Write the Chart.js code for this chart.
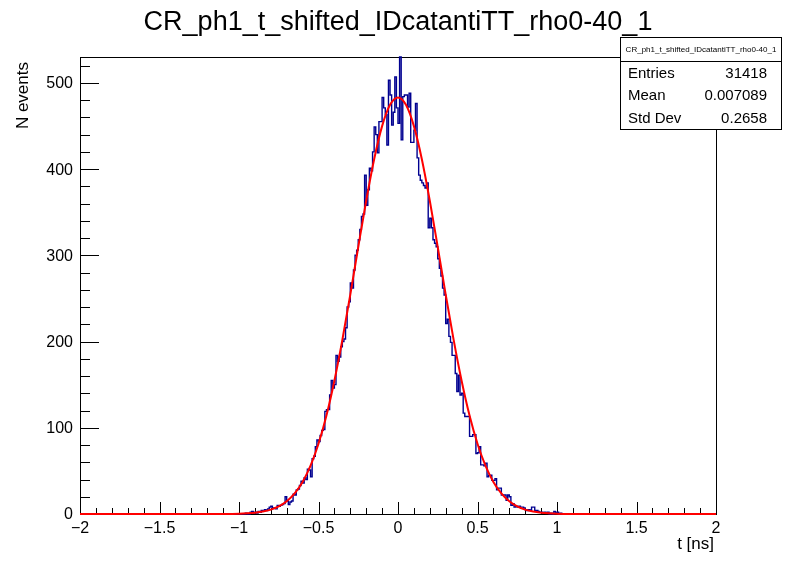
<!DOCTYPE html>
<html><head><meta charset="utf-8">
<script src="https://cdn.jsdelivr.net/npm/chart.js@4.4.1/dist/chart.umd.min.js"></script>
<style>html,body{margin:0;padding:0;background:#fff;overflow:hidden}canvas{display:block}</style>
</head><body>
<canvas id="c" width="796" height="572"></canvas>
<script>
const histTitle = "CR_ph1_t_shifted_IDcatantiTT_rho0-40_1";
const xAxisTitle = "t [ns]";
const yAxisTitle = "N events";
const binLow = -2, binHigh = 2, binWidth = 0.01;
const firstFilledEdge = -1.00;
// bin contents from t = -1.00 to 1.09 (bin width 0.01 ns); all other bins are empty
const counts = [
  0,0,0,0,0,1,0,0,2,3,
  1,2,1,3,2,4,3,5,4,6,
  8,9,7,7,6,10,9,10,11,12,
  20,15,11,14,15,23,22,28,29,33,
  38,36,42,40,52,51,43,64,67,78,
  86,84,91,97,98,119,121,121,138,155,
  146,150,184,177,182,194,200,203,216,240,
  246,268,262,283,300,306,318,330,345,348,
  393,358,376,401,398,420,449,440,419,455,
  455,483,471,463,428,503,486,451,466,507,
  471,453,530,434,484,486,486,472,488,431,
  431,445,476,413,393,387,384,381,378,384,
  332,343,332,318,314,310,296,285,276,262,
  254,221,226,206,199,184,184,163,142,161,
  138,140,117,113,113,113,90,90,92,92,
  70,71,78,57,57,56,59,43,45,45,
  39,39,41,28,30,30,22,22,22,16,
  22,20,10,12,8,9,8,9,8,8,
  7,5,4,5,4,8,8,4,4,3,
  2,2,1,2,1,2,0,1,0,3,
  1,2,0,1,0,0,0,0,0,0
];
const fitX = [-2,-1.2,-1,-0.95,-0.9,-0.85,-0.8,-0.75,-0.7,-0.65,-0.6,-0.55,-0.5,-0.45,-0.4,-0.35,-0.3,-0.25,-0.2,-0.15,-0.1,-0.05,0,0.05,0.1,0.15,0.2,0.25,0.3,0.35,0.4,0.45,0.5,0.55,0.6,0.65,0.7,0.75,0.8,0.85,0.9,0.95,1,1.2,2];
const fitY = [0,0.02,0.4,0.8,1.5,2.8,5.1,8.8,14.7,23.9,37.2,56.0,81.4,114.2,154.6,201.9,254.5,309.5,363.3,411.5,449.8,474.5,483,474.5,449.8,411.5,363.3,309.5,254.5,201.9,154.6,114.2,81.4,56.0,37.2,23.9,14.7,8.8,5.1,2.8,1.5,0.8,0.4,0.02,0];
const xTicks = [-2,-1.5,-1,-0.5,0,0.5,1,1.5,2];
const xTickLabels = ["\u22122","\u22121.5","\u22121","\u22120.5","0","0.5","1","1.5","2"];
const yTicks = [0,100,200,300,400,500];
const yTickLabels = ["0","100","200","300","400","500"];
const statsLabels = ["Entries","Mean","Std Dev"];
const statsValues = ["31418","0.007089","0.2658"];
const yMax = 530;

const FONT = "'Liberation Sans', Arial, Helvetica, sans-serif";

const nBins = Math.round((binHigh - binLow) / binWidth);
const offset = Math.round((firstFilledEdge - binLow) / binWidth);
const histPts = [];
for (let i = 0; i < nBins; i++) {
  const j = i - offset;
  histPts.push({x: binLow + i * binWidth, y: (j >= 0 && j < counts.length) ? counts[j] : 0});
}
histPts.push({x: binHigh, y: 0});
const fitPts = fitX.map((v, i) => ({x: v, y: fitY[i]}));

const rootPlugin = {
  id: 'rootFrame',
  beforeDatasetsDraw(chart) {
    const {ctx, chartArea: a, scales} = chart;
    const x = scales.x, y = scales.y;
    ctx.save();
    ctx.strokeStyle = '#000';
    ctx.lineWidth = 1;
    const L = Math.round(a.left), T = Math.round(a.top), R = Math.round(a.right), B = Math.round(a.bottom);
    ctx.strokeRect(L + 0.5, T + 0.5, R - L, B - T);
    ctx.beginPath();
    for (let k = 0; k <= 40; k++) {
      const v = binLow + k * 0.1;
      const px = Math.round(x.getPixelForValue(v)) + 0.5;
      const major = k % 5 === 0;
      ctx.moveTo(px, B);
      ctx.lineTo(px, B - (major ? 12 : 6));
    }
    for (let v = 0; v <= 520; v += 20) {
      const py = Math.round(y.getPixelForValue(v)) + 0.5;
      const major = v % 100 === 0;
      ctx.moveTo(L, py);
      ctx.lineTo(L + (major ? 19 : 10), py);
    }
    ctx.stroke();
    ctx.fillStyle = '#000';
    ctx.font = "16px " + FONT;
    ctx.textAlign = 'center';
    ctx.textBaseline = 'alphabetic';
    xTicks.forEach((v, i) => {
      ctx.fillText(xTickLabels[i], x.getPixelForValue(v), 533);
    });
    ctx.textAlign = 'right';
    ctx.textBaseline = 'middle';
    yTicks.forEach((v, i) => {
      ctx.fillText(yTickLabels[i], 73, y.getPixelForValue(v) + 1);
    });
    ctx.textBaseline = 'alphabetic';
    ctx.font = "17px " + FONT;
    ctx.textAlign = 'right';
    ctx.fillText(xAxisTitle, 714, 549);
    ctx.save();
    ctx.translate(27.5, 62);
    ctx.rotate(-Math.PI / 2);
    ctx.textAlign = 'right';
    ctx.fillText(yAxisTitle, 0, 0);
    ctx.restore();
    ctx.font = "27px " + FONT;
    ctx.textAlign = 'center';
    ctx.fillText(histTitle, 398, 29.5);
    ctx.restore();
  },
  afterDraw(chart) {
    const ctx = chart.ctx;
    ctx.save();
    ctx.fillStyle = '#fff';
    ctx.fillRect(620, 37, 162, 93);
    ctx.strokeStyle = '#000';
    ctx.lineWidth = 1;
    ctx.strokeRect(620.5, 37.5, 161, 92);
    ctx.beginPath();
    ctx.moveTo(620.5, 61.5);
    ctx.lineTo(781.5, 61.5);
    ctx.stroke();
    ctx.fillStyle = '#000';
    ctx.font = "8px " + FONT;
    ctx.textAlign = 'center';
    ctx.textBaseline = 'alphabetic';
    ctx.fillText(histTitle, 701, 51.5);
    ctx.font = "15px " + FONT;
    const rowsY = [77.5, 100, 122.5];
    statsLabels.forEach((s, i) => {
      ctx.textAlign = 'left';
      ctx.fillText(s, 628, rowsY[i]);
      ctx.textAlign = 'right';
      ctx.fillText(statsValues[i], 767, rowsY[i]);
    });
    ctx.restore();
  }
};

new Chart(document.getElementById('c'), {
  type: 'line',
  data: {
    datasets: [
      {
        label: 'fit',
        data: fitPts,
        borderColor: '#ff0000',
        borderWidth: 2,
        pointRadius: 0,
        fill: false,
        cubicInterpolationMode: 'monotone',
        clip: 3
      },
      {
        label: histTitle,
        data: histPts,
        borderColor: '#000090',
        borderWidth: 1.4,
        pointRadius: 0,
        fill: false,
        stepped: 'after',
        clip: 3
      }
    ]
  },
  options: {
    responsive: false,
    devicePixelRatio: 1,
    animation: false,
    events: [],
    layout: {padding: {left: 80, right: 80, top: 57, bottom: 58}},
    plugins: {legend: {display: false}, title: {display: false}, tooltip: {enabled: false}},
    scales: {
      x: {type: 'linear', min: binLow, max: binHigh, display: false},
      y: {type: 'linear', min: 0, max: yMax, display: false}
    }
  },
  plugins: [rootPlugin]
});
</script>
</body></html>
